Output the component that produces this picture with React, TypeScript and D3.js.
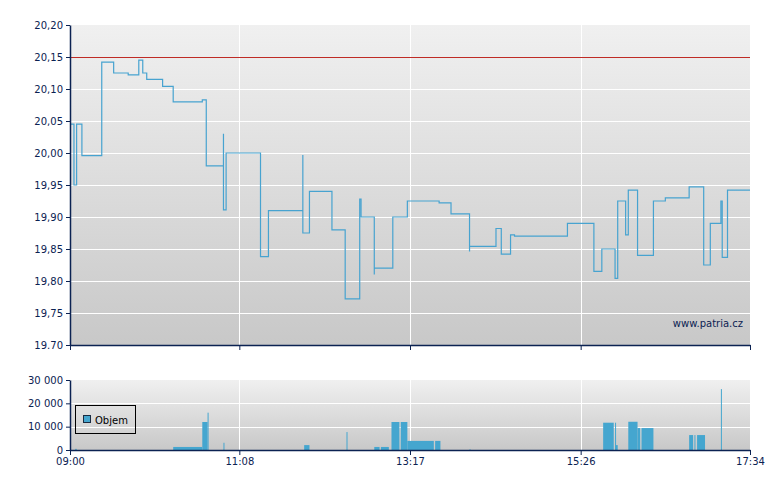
import React, { useEffect, useRef } from 'react';
import * as d3 from 'd3';

// intraday trades (step line)
const priceTimes = ['09:00', '09:03', '09:05', '09:09', '09:24', '09:33', '09:44', '09:52', '09:55', '09:58',
  '10:10', '10:18', '10:40', '10:43', '10:56', '10:56', '10:58', '11:24', '11:30', '11:56',
  '11:56', '12:01', '12:18', '12:28', '12:39', '12:40', '12:50', '12:50', '13:04', '13:15',
  '13:39', '13:48', '14:02', '14:02', '14:22', '14:26', '14:33', '14:36', '15:16', '15:36',
  '15:42', '15:52', '15:54', '16:00', '16:02', '16:09', '16:21', '16:30', '16:48', '16:59',
  '17:04', '17:12', '17:13', '17:17', '17:34'];
const prices = [20.045, 19.95, 20.045, 19.996, 20.142, 20.125, 20.122, 20.145, 20.125, 20.115,
  20.104, 20.08, 20.083, 19.98, 20.03, 19.911, 20.0, 19.838, 19.91, 19.997,
  19.875, 19.94, 19.88, 19.772, 19.928, 19.9, 19.81, 19.82, 19.9, 19.925,
  19.922, 19.905, 19.846, 19.854, 19.882, 19.842, 19.872, 19.87, 19.89, 19.815,
  19.85, 19.804, 19.925, 19.872, 19.942, 19.84, 19.925, 19.93, 19.947, 19.825,
  19.89, 19.925, 19.837, 19.942, 19.942];
const prevClose = 20.15;

// volume bars: start, end, amount
const volFrom = ['09:04', '10:18', '10:40', '10:44', '10:56', '11:57', '12:29', '12:50', '12:55', '13:03',
  '13:10', '13:15', '13:36', '14:02', '15:43', '15:52', '15:52', '16:02', '16:09', '16:12',
  '16:48', '16:52', '16:54', '17:12'];
const volTo = ['09:05', '10:40', '10:44', '10:44', '10:56', '12:01', '12:29', '12:54', '13:01', '13:09',
  '13:15', '13:35', '13:40', '14:02', '15:51', '15:52', '15:54', '16:09', '16:11', '16:21',
  '16:51', '16:52', '17:00', '17:12'];
const volAmount = [500, 1300, 12000, 16000, 3100, 2100, 7700, 1300, 1300, 12000,
  12000, 3900, 3900, 300, 11700, 11700, 2100, 12100, 9400, 9400,
  6400, 6400, 6400, 26100];

const priceTicks = [20.2, 20.15, 20.1, 20.05, 20.0, 19.95, 19.9, 19.85, 19.8, 19.75, 19.7];
const priceTickLabels = ['20,20', '20,15', '20,10', '20,05', '20,00', '19,95', '19,90', '19,85', '19,80', '19,75', '19.70'];
const volTicks = [30000, 20000, 10000, 0];
const volTickLabels = ['30 000', '20 000', '10 000', '0'];
const timeTicks = ['09:00', '11:08', '13:17', '15:26', '17:34'];

const App: React.FC = () => {
  const svgRef = useRef<SVGSVGElement>(null);

  useEffect(() => {
    document.body.style.margin = '0';
    const svg = d3.select(svgRef.current);
    svg.selectAll('*').remove();

    const parse = d3.timeParse('%H:%M');
    const t = (s: string) => parse(s) as Date;
    const crisp = (v: number) => Math.round(v) + 0.5;
    const left = 70, right = 750;
    const pTop = 25, pBot = 345, vTop = 380, vBot = 450;
    const axisColor = '#0b2252';
    const font = 'DejaVu Sans, Verdana, sans-serif';

    const x = d3.scaleTime().domain([t('09:00'), t('17:34')]).range([left, right]);
    const y = d3.scaleLinear().domain([19.7, 20.2]).range([pBot, pTop]);
    const yv = d3.scaleLinear().domain([0, 30000]).range([vBot, vTop]);

    const defs = svg.append('defs');
    const grad = defs.append('linearGradient').attr('id', 'bg').attr('x1', 0).attr('y1', 0).attr('x2', 0).attr('y2', 1);
    grad.append('stop').attr('offset', '0%').attr('stop-color', '#f0f0f0');
    grad.append('stop').attr('offset', '100%').attr('stop-color', '#c8c8c8');

    // panels
    svg.append('rect').attr('x', left).attr('y', pTop).attr('width', right - left).attr('height', pBot - pTop).attr('fill', 'url(#bg)');
    svg.append('rect').attr('x', left).attr('y', vTop).attr('width', right - left).attr('height', vBot - vTop).attr('fill', 'url(#bg)');

    // grid
    const grid = svg.append('g').attr('stroke', '#ffffff').attr('stroke-width', 1);
    grid.selectAll('.hp').data(priceTicks.slice(1, -1)).enter().append('line')
      .attr('x1', left).attr('x2', right).attr('y1', d => crisp(y(d))).attr('y2', d => crisp(y(d)));
    grid.selectAll('.hv').data(volTicks.slice(1, -1)).enter().append('line')
      .attr('x1', left).attr('x2', right).attr('y1', d => crisp(yv(d))).attr('y2', d => crisp(yv(d)));
    timeTicks.slice(1, -1).forEach(s => {
      const gx = crisp(x(t(s)));
      grid.append('line').attr('x1', gx).attr('x2', gx).attr('y1', pTop).attr('y2', pBot);
      grid.append('line').attr('x1', gx).attr('x2', gx).attr('y1', vTop).attr('y2', vBot);
    });

    // previous close
    svg.append('line').attr('x1', left).attr('x2', right).attr('y1', crisp(y(prevClose))).attr('y2', crisp(y(prevClose)))
      .attr('stroke', '#bf2b25').attr('stroke-width', 1);

    // price line
    const pts = priceTimes.map((s, i) => [x(t(s)), y(prices[i])] as [number, number]);
    svg.append('path').attr('d', d3.line().curve(d3.curveStepAfter)(pts))
      .attr('fill', 'none').attr('stroke', '#47a3d0').attr('stroke-width', 1.2);

    // volume
    svg.append('g').selectAll('rect').data(volAmount).enter().append('rect')
      .attr('x', (d, i) => x(t(volFrom[i])))
      .attr('width', (d, i) => Math.max(1, x(t(volTo[i])) - x(t(volFrom[i]))))
      .attr('y', d => yv(d))
      .attr('height', d => vBot - yv(d))
      .attr('fill', '#45a6cf');

    // axes
    const styleAxis = (g: d3.Selection<SVGGElement, unknown, null, undefined>) => {
      g.selectAll('path,line').attr('stroke', axisColor);
      g.select('.domain').attr('stroke-width', 1.5);
      g.selectAll('text').attr('fill', axisColor).attr('font-family', font).attr('font-size', '10px');
    };
    const yAxis = svg.append('g').attr('transform', `translate(${left},0)`)
      .call(d3.axisLeft(y).tickValues(priceTicks).tickSize(4).tickSizeOuter(0).tickPadding(3)
        .tickFormat((d, i) => priceTickLabels[i]));
    styleAxis(yAxis);
    const vAxis = svg.append('g').attr('transform', `translate(${left},0)`)
      .call(d3.axisLeft(yv).tickValues(volTicks).tickSize(4).tickSizeOuter(0).tickPadding(3)
        .tickFormat((d, i) => volTickLabels[i]));
    styleAxis(vAxis);
    const xTop = svg.append('g').attr('transform', `translate(0,${pBot})`)
      .call(d3.axisBottom(x).tickValues(timeTicks.map(t)).tickSize(5).tickSizeOuter(0).tickFormat(() => ''));
    styleAxis(xTop);
    const xBot = svg.append('g').attr('transform', `translate(0,${vBot})`)
      .call(d3.axisBottom(x).tickValues(timeTicks.map(t)).tickSize(5).tickSizeOuter(0).tickPadding(3)
        .tickFormat((d, i) => timeTicks[i]));
    styleAxis(xBot);

    // legend
    const lg = svg.append('g');
    lg.append('rect').attr('x', 75.5).attr('y', 405.5).attr('width', 60).attr('height', 28)
      .attr('fill', 'none').attr('stroke', '#000').attr('stroke-width', 1);
    lg.append('rect').attr('x', 83.5).attr('y', 415.5).attr('width', 7).attr('height', 7)
      .attr('fill', '#45a6cf').attr('stroke', '#1a2a40').attr('stroke-width', 1);
    lg.append('text').attr('x', 95).attr('y', 423.5).text('Objem')
      .attr('font-family', font).attr('font-size', '10px').attr('fill', '#000');

    // watermark
    svg.append('text').attr('x', 743).attr('y', 326.5).attr('text-anchor', 'end').text('www.patria.cz')
      .attr('font-family', font).attr('font-size', '10px').attr('fill', axisColor);
  }, []);

  return <svg ref={svgRef} width={780} height={490} style={{ display: 'block', background: '#fff' }}></svg>;
};

export default App;
